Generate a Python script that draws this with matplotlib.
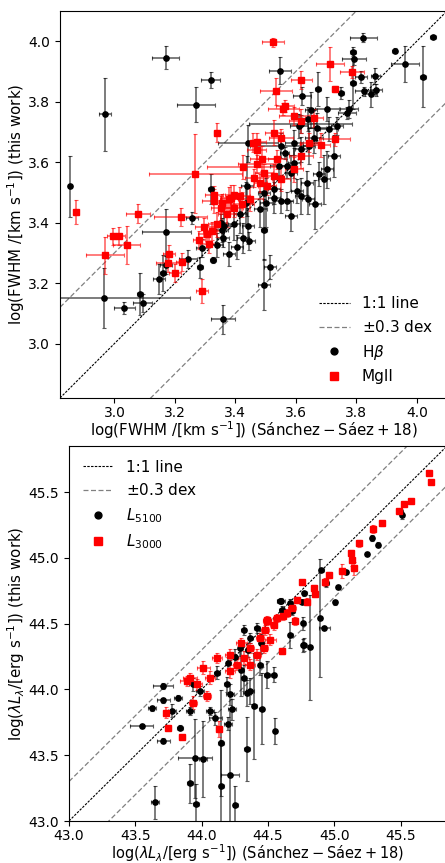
import matplotlib
matplotlib.use("Agg")
import matplotlib.pyplot as plt
import numpy as np

# FWHM panel: H-beta (black)
hb_x = [3.170, 3.318, 3.270, 2.970, 2.852, 3.547, 3.823, 3.927, 4.054, 3.962, 4.022, 3.790, 3.792, 3.817,
        3.863, 3.788, 3.826, 3.848, 3.864, 3.748, 3.672, 3.620, 3.776, 3.704, 3.649, 3.441, 3.563, 3.594,
        3.583, 3.545, 3.616, 3.660, 3.726, 3.704, 3.677, 3.693, 3.638, 3.605, 3.528, 3.494, 3.439, 3.320,
        3.737, 3.770, 3.710, 3.671, 3.640, 3.610, 3.643, 3.594, 3.572, 3.572, 2.965, 3.033, 3.086, 3.093,
        3.148, 3.161, 3.170, 3.172, 3.243, 3.283, 3.256, 3.325, 3.360, 3.494, 3.514, 3.494, 3.289, 3.340,
        3.358, 3.380, 3.406, 3.426, 3.441, 3.446, 3.583, 3.662, 3.640, 3.616, 3.362, 3.355, 3.351, 3.395,
        3.417, 3.434, 3.483, 3.500, 3.528, 3.550, 3.616, 3.550]
hb_y = [3.946, 3.872, 3.790, 3.758, 3.520, 3.903, 4.012, 3.969, 4.015, 3.924, 3.883, 3.966, 3.940, 3.881,
        3.885, 3.861, 3.835, 3.824, 3.840, 3.828, 3.841, 3.820, 3.775, 3.775, 3.773, 3.662, 3.631, 3.598,
        3.565, 3.587, 3.642, 3.680, 3.620, 3.576, 3.560, 3.543, 3.532, 3.504, 3.510, 3.499, 3.521, 3.510,
        3.719, 3.764, 3.710, 3.714, 3.742, 3.720, 3.653, 3.665, 3.587, 3.472, 3.151, 3.117, 3.165, 3.135,
        3.214, 3.233, 3.260, 3.368, 3.280, 3.252, 3.414, 3.275, 3.080, 3.195, 3.253, 3.377, 3.315, 3.325,
        3.350, 3.295, 3.319, 3.350, 3.389, 3.340, 3.423, 3.460, 3.477, 3.488, 3.389, 3.377, 3.400, 3.394,
        3.427, 3.466, 3.444, 3.466, 3.483, 3.472, 3.725, 3.655]
hb_xerr = [0.045, 0.030, 0.062, 0.020, 0.005, 0.037, 0.044, 0.008, 0.010, 0.046, 0.010, 0.010, 0.040, 0.020,
           0.015, 0.010, 0.030, 0.020, 0.020, 0.010, 0.010, 0.030, 0.030, 0.040, 0.020, 0.100, 0.015, 0.020,
           0.020, 0.030, 0.020, 0.030, 0.020, 0.020, 0.020, 0.020, 0.020, 0.020, 0.020, 0.020, 0.020, 0.010,
           0.020, 0.030, 0.030, 0.030, 0.020, 0.030, 0.020, 0.030, 0.020, 0.020, 0.285, 0.034, 0.010, 0.030,
           0.020, 0.010, 0.020, 0.080, 0.030, 0.010, 0.020, 0.010, 0.040, 0.020, 0.020, 0.010, 0.020, 0.020,
           0.020, 0.020, 0.020, 0.020, 0.020, 0.020, 0.020, 0.020, 0.020, 0.020, 0.020, 0.020, 0.020, 0.020,
           0.020, 0.020, 0.020, 0.020, 0.020, 0.020, 0.170, 0.100]
hb_yerr = [0.039, 0.027, 0.058, 0.120, 0.100, 0.046, 0.015, 0.008, 0.005, 0.060, 0.100, 0.015, 0.020, 0.020,
           0.025, 0.085, 0.015, 0.040, 0.020, 0.020, 0.056, 0.030, 0.030, 0.040, 0.060, 0.060, 0.020, 0.050,
           0.060, 0.030, 0.040, 0.050, 0.070, 0.060, 0.040, 0.080, 0.040, 0.040, 0.050, 0.030, 0.100, 0.050,
           0.030, 0.020, 0.040, 0.050, 0.040, 0.040, 0.060, 0.040, 0.040, 0.030, 0.100, 0.020, 0.070, 0.030,
           0.050, 0.060, 0.030, 0.077, 0.030, 0.035, 0.020, 0.010, 0.047, 0.085, 0.040, 0.100, 0.030, 0.040,
           0.030, 0.040, 0.040, 0.050, 0.060, 0.030, 0.050, 0.080, 0.050, 0.060, 0.050, 0.040, 0.030, 0.050,
           0.060, 0.070, 0.060, 0.080, 0.050, 0.040, 0.030, 0.040]

# FWHM panel: MgII (red)
mg_x = [3.525, 3.713, 3.785, 3.618, 3.728, 3.534, 3.563, 3.559, 3.340, 3.267, 3.425, 3.459, 3.472, 3.528,
        3.550, 3.594, 3.660, 3.616, 3.728, 3.682, 3.470, 3.489, 3.539, 3.616, 3.643, 3.594, 3.550, 3.494,
        3.461, 3.483, 3.528, 3.395, 3.417, 3.378, 3.329, 3.357, 2.872, 3.077, 3.219, 2.996, 3.016, 3.040,
        2.968, 3.181, 3.177, 3.199, 3.223, 3.289, 3.307, 3.323, 3.340, 3.373, 3.395, 3.423, 3.450, 3.351,
        3.329, 3.384, 3.296, 3.279, 3.312, 3.470, 3.505]
mg_y = [3.997, 3.926, 3.898, 3.872, 3.841, 3.834, 3.786, 3.775, 3.698, 3.562, 3.584, 3.665, 3.667, 3.698,
        3.681, 3.753, 3.747, 3.736, 3.675, 3.656, 3.640, 3.612, 3.609, 3.620, 3.665, 3.576, 3.543, 3.565,
        3.549, 3.532, 3.554, 3.493, 3.488, 3.477, 3.471, 3.466, 3.435, 3.430, 3.418, 3.355, 3.355, 3.325,
        3.292, 3.297, 3.267, 3.234, 3.270, 3.173, 3.361, 3.372, 3.394, 3.427, 3.449, 3.460, 3.477, 3.449,
        3.491, 3.483, 3.384, 3.344, 3.328, 3.593, 3.522]
mg_xerr = [0.036, 0.047, 0.040, 0.035, 0.010, 0.054, 0.030, 0.050, 0.010, 0.154, 0.120, 0.020, 0.030, 0.030,
           0.040, 0.050, 0.030, 0.040, 0.052, 0.030, 0.030, 0.040, 0.030, 0.040, 0.030, 0.030, 0.030, 0.030,
           0.030, 0.020, 0.030, 0.030, 0.030, 0.030, 0.040, 0.030, 0.005, 0.040, 0.088, 0.020, 0.020, 0.044,
           0.063, 0.020, 0.040, 0.020, 0.020, 0.020, 0.030, 0.030, 0.030, 0.030, 0.030, 0.040, 0.040, 0.030,
           0.030, 0.030, 0.030, 0.020, 0.030, 0.060, 0.030]
mg_yerr = [0.015, 0.056, 0.020, 0.030, 0.010, 0.044, 0.020, 0.020, 0.030, 0.130, 0.040, 0.030, 0.030, 0.040,
           0.030, 0.030, 0.030, 0.040, 0.020, 0.040, 0.030, 0.040, 0.030, 0.040, 0.030, 0.040, 0.040, 0.030,
           0.030, 0.030, 0.040, 0.030, 0.030, 0.040, 0.040, 0.030, 0.040, 0.030, 0.030, 0.028, 0.030, 0.063,
           0.062, 0.030, 0.030, 0.030, 0.030, 0.040, 0.030, 0.030, 0.040, 0.040, 0.030, 0.040, 0.040, 0.040,
           0.030, 0.040, 0.030, 0.030, 0.030, 0.030, 0.030]

# luminosity panel: L5100 (black)
l51_x = [45.511, 45.498, 45.287, 45.330, 45.247, 44.902, 45.085, 45.025, 44.940, 44.774, 44.756, 45.008,
         44.592, 44.668, 44.605, 44.889, 44.925, 44.768, 44.819, 44.668, 44.761, 44.597, 44.681, 44.316,
         44.417, 44.366, 44.291, 44.442, 44.492, 44.542, 44.316, 44.190, 44.115, 43.938, 43.712, 44.215,
         44.366, 43.549, 43.629, 43.712, 43.712, 43.775, 43.838, 43.825, 43.951, 44.009, 43.913, 43.958,
         43.649, 44.147, 44.102, 44.215, 44.149, 44.253, 44.341, 44.552, 44.202, 44.228, 44.454, 44.396,
         44.064, 44.341, 43.913, 43.989, 44.774, 44.250, 44.350, 44.200, 44.450, 44.300]
l51_y = [45.323, 45.353, 45.150, 45.100, 45.033, 44.905, 44.895, 44.779, 44.809, 44.731, 44.668, 44.663,
         44.673, 44.655, 44.605, 44.542, 44.466, 44.335, 44.320, 44.416, 44.504, 44.674, 44.596, 44.453,
         44.466, 44.391, 44.315, 44.189, 44.113, 44.113, 44.088, 44.038, 44.126, 44.038, 44.026, 43.962,
         43.988, 43.723, 43.856, 43.610, 43.917, 43.837, 43.710, 43.937, 43.478, 43.471, 43.287, 43.131,
         43.141, 43.592, 43.781, 43.350, 43.264, 43.119, 43.546, 43.683, 43.741, 43.849, 43.854, 43.874,
         43.837, 43.975, 43.837, 43.988, 44.340, 44.250, 44.300, 44.200, 44.350, 44.150]
l51_xerr = [0.015, 0.015, 0.015, 0.015, 0.010, 0.020, 0.015, 0.015, 0.020, 0.020, 0.020, 0.015,
            0.020, 0.020, 0.020, 0.015, 0.040, 0.015, 0.015, 0.020, 0.015, 0.030, 0.020, 0.020,
            0.020, 0.020, 0.020, 0.020, 0.020, 0.020, 0.020, 0.020, 0.020, 0.030, 0.075, 0.030,
            0.030, 0.088, 0.030, 0.050, 0.050, 0.030, 0.020, 0.030, 0.130, 0.030, 0.020, 0.020,
            0.030, 0.020, 0.050, 0.070, 0.020, 0.020, 0.020, 0.015, 0.030, 0.030, 0.020, 0.020,
            0.030, 0.030, 0.030, 0.030, 0.015, 0.020, 0.020, 0.020, 0.020, 0.020]
l51_yerr = [0.025, 0.020, 0.020, 0.020, 0.015, 0.015, 0.015, 0.015, 0.030, 0.020, 0.020, 0.020,
            0.015, 0.030, 0.030, 0.450, 0.015, 0.050, 0.400, 0.100, 0.050, 0.020, 0.030, 0.040,
            0.040, 0.040, 0.060, 0.080, 0.100, 0.060, 0.100, 0.060, 0.050, 0.050, 0.020, 0.080,
            0.100, 0.015, 0.020, 0.020, 0.020, 0.050, 0.020, 0.020, 0.300, 0.290, 0.150, 0.150,
            0.125, 0.400, 0.050, 0.500, 0.350, 0.150, 0.245, 0.100, 0.050, 0.080, 0.270, 0.400,
            0.030, 0.100, 0.030, 0.040, 0.050, 0.060, 0.050, 0.050, 0.070, 0.200]

# luminosity panel: L3000 (red)
l30_x = [45.717, 45.730, 45.579, 45.523, 45.488, 45.360, 45.292, 45.186, 45.126, 45.133, 45.058, 45.146,
         44.957, 44.932, 44.844, 44.756, 44.857, 44.794, 44.719, 44.643, 44.568, 44.492, 44.681, 44.492,
         44.542, 44.617, 44.479, 44.442, 44.517, 44.366, 44.316, 44.266, 44.215, 44.115, 44.014, 44.366,
         44.417, 44.467, 44.215, 43.913, 43.964, 44.064, 44.706, 43.730, 43.750, 43.853, 44.132, 43.938,
         44.039, 43.888, 44.300, 44.605]
l30_y = [45.646, 45.580, 45.429, 45.409, 45.358, 45.262, 45.222, 45.109, 45.039, 44.980, 44.900, 44.920,
         44.869, 44.818, 44.773, 44.814, 44.724, 44.668, 44.680, 44.580, 44.542, 44.517, 44.618, 44.530,
         44.492, 44.555, 44.453, 44.391, 44.378, 44.315, 44.240, 44.189, 44.139, 44.240, 44.164, 44.189,
         44.265, 44.315, 44.265, 44.088, 44.038, 44.088, 44.517, 43.824, 43.703, 43.635, 43.698, 43.900,
         43.950, 44.063, 44.350, 44.290]
l30_xerr = [0.010, 0.010, 0.010, 0.010, 0.010, 0.010, 0.010, 0.015, 0.010, 0.015, 0.020, 0.020,
            0.010, 0.010, 0.010, 0.010, 0.015, 0.020, 0.020, 0.020, 0.030, 0.030, 0.030, 0.030,
            0.030, 0.020, 0.030, 0.030, 0.040, 0.030, 0.040, 0.030, 0.040, 0.040, 0.050, 0.040,
            0.030, 0.030, 0.040, 0.050, 0.040, 0.040, 0.020, 0.015, 0.020, 0.020, 0.020, 0.030,
            0.030, 0.050, 0.040, 0.020]
l30_yerr = [0.015, 0.010, 0.010, 0.015, 0.015, 0.020, 0.030, 0.030, 0.020, 0.040, 0.050, 0.050,
            0.020, 0.030, 0.020, 0.015, 0.020, 0.030, 0.020, 0.030, 0.030, 0.030, 0.030, 0.030,
            0.040, 0.030, 0.040, 0.040, 0.040, 0.040, 0.050, 0.040, 0.050, 0.040, 0.050, 0.040,
            0.040, 0.040, 0.040, 0.040, 0.040, 0.050, 0.030, 0.040, 0.015, 0.015, 0.060, 0.050,
            0.040, 0.040, 0.040, 0.020]

W, H = 445, 863
fig = plt.figure(figsize=(W / 100, H / 100), dpi=100)
ax1 = fig.add_axes([60 / W, (H - 398) / H, 387 / W, 387 / H])
ax2 = fig.add_axes([69 / W, (H - 821) / H, 378 / W, 375 / H])


def draw(ax, lims, bx, by, bxe, bye, rx, ry, rxe, rye, blab, rlab):
    grid = np.array(lims)
    ax.plot(grid, grid, color="k", ls=(0, (2.2, 1.2)), lw=0.8, label="1:1 line")
    ax.plot(grid, grid + 0.3, color="gray", ls=(0, (4, 2)), lw=0.9, label=r"$\pm$0.3 dex")
    ax.plot(grid, grid - 0.3, color="gray", ls=(0, (4, 2)), lw=0.9)
    ax.errorbar(bx, by, xerr=bxe, yerr=bye, fmt="none", ecolor="k", elinewidth=1.1,
                capsize=1.5, capthick=0.8, alpha=0.65)
    ax.errorbar(rx, ry, xerr=rxe, yerr=rye, fmt="none", ecolor="red", elinewidth=1.1,
                capsize=1.5, capthick=0.8, alpha=0.65)
    ax.plot(bx, by, "o", color="k", ms=3.8, ls="none", label=blab)
    ax.plot(rx, ry, "s", color="red", ms=4.0, ls="none", label=rlab)
    ax.set_xlim(lims)
    ax.set_ylim(lims)
    ax.tick_params(labelsize=10)
    ax.tick_params(axis="x", pad=2.5)


draw(ax1, (2.82, 4.10), hb_x, hb_y, hb_xerr, hb_yerr, mg_x, mg_y, mg_xerr, mg_yerr,
     r"H$\beta$", "MgII")
ax1.set_xticks([3.0, 3.2, 3.4, 3.6, 3.8, 4.0])
ax1.set_yticks([3.0, 3.2, 3.4, 3.6, 3.8, 4.0])
ax1.set_xlabel(r"log(FWHM /[km s$^{-1}$]) $\rm (Sánchez-Sáez+18)$", fontsize=10.8, labelpad=-1)
ax1.set_ylabel(r"log(FWHM /[km s$^{-1}$]) (this work)", fontsize=10.8, labelpad=1)
ax1.legend(loc="lower right", frameon=False, fontsize=11, handlelength=2.0, markerscale=1.3)

draw(ax2, (43.0, 45.85), l51_x, l51_y, l51_xerr, l51_yerr, l30_x, l30_y, l30_xerr, l30_yerr,
     r"$L_{5100}$", r"$L_{3000}$")
ax2.tick_params(axis="x", pad=2)
ax2.set_xticks([43.0, 43.5, 44.0, 44.5, 45.0, 45.5])
ax2.set_yticks([43.0, 43.5, 44.0, 44.5, 45.0, 45.5])
ax2.set_xlabel(r"log($\lambda L_\lambda$/[erg s$^{-1}$]) $\rm (Sánchez-Sáez+18)$", fontsize=10.5, labelpad=0)
ax2.set_ylabel(r"log($\lambda L_\lambda$/[erg s$^{-1}$]) (this work)", fontsize=10.8, labelpad=1)
ax2.legend(loc="upper left", frameon=False, fontsize=11, handlelength=2.0, markerscale=1.3)

fig.savefig("out.png", dpi=100)
